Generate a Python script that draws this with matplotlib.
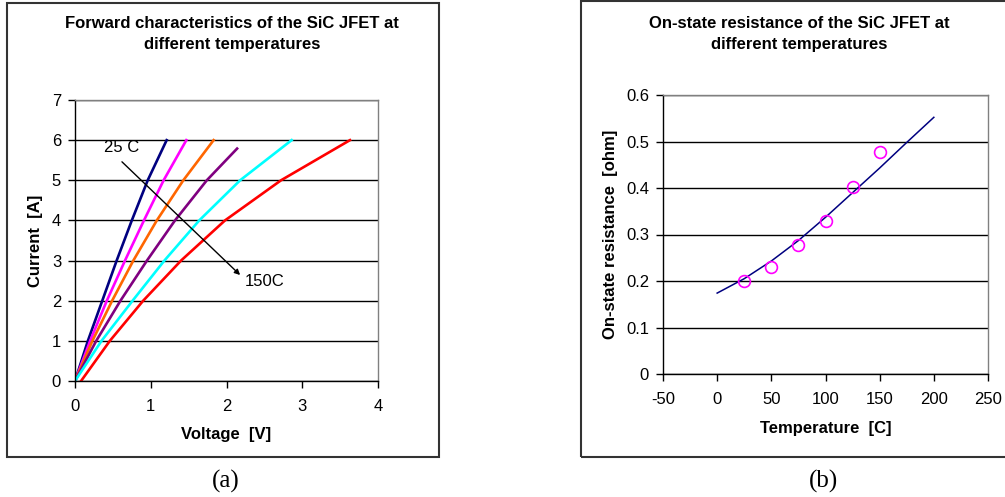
import matplotlib
matplotlib.use("Agg")
import matplotlib.pyplot as plt
from matplotlib.patches import Rectangle

plt.rcParams['font.family'] = ['Liberation Sans', 'DejaVu Sans']
plt.rcParams['axes.unicode_minus'] = False

# ---- data (a): forward characteristics, current [A] vs voltage [V] ----
CURRENT = [0, 1, 2, 3, 4, 5, 6]
CURRENT_PURPLE = [0, 1, 2, 3, 4, 5, 5.79]
V_NAVY    = [0.00, 0.17, 0.36, 0.55, 0.75, 0.96, 1.21]
V_MAGENTA = [0.00, 0.20, 0.42, 0.66, 0.91, 1.17, 1.47]
V_ORANGE  = [0.00, 0.23, 0.49, 0.77, 1.08, 1.43, 1.83]
V_PURPLE  = [0.00, 0.28, 0.60, 0.95, 1.32, 1.74, 2.14]
V_CYAN    = [0.00, 0.35, 0.76, 1.18, 1.64, 2.18, 2.86]
V_RED     = [0.08, 0.46, 0.90, 1.40, 1.98, 2.72, 3.63]

# ---- data (b): on-state resistance vs temperature ----
FIT_T = [0, 25, 50, 75, 100, 125, 150, 175, 200]
FIT_R = [0.174, 0.205, 0.243, 0.287, 0.337, 0.390, 0.443, 0.498, 0.552]
MEAS_T = [25, 50, 75, 100, 125, 150]
MEAS_R = [0.199, 0.231, 0.277, 0.330, 0.403, 0.477]

W, H = 1005, 497
fig = plt.figure(figsize=(W / 100, H / 100), dpi=100)


def fx(px):
    return px / W


def fy(py):
    return 1 - py / H


def style_axes(ax):
    ax.spines['left'].set_color('black')
    ax.spines['bottom'].set_color('black')
    ax.spines['top'].set_color('#808080')
    ax.spines['right'].set_color('#808080')
    for s in ax.spines.values():
        s.set_linewidth(1.0)
    ax.tick_params(direction='out', length=5, width=1, labelsize=12, colors='black')
    ax.tick_params(axis='x', pad=8)
    ax.tick_params(axis='y', pad=5)
    ax.yaxis.grid(True, color='black', linewidth=1.0)
    ax.set_axisbelow(True)


# outer frames
fig.patches.append(Rectangle((fx(7), fy(457)), fx(439 - 7), (457 - 3) / H,
                             transform=fig.transFigure, fill=False,
                             edgecolor='#333333', linewidth=1.5))
fig.patches.append(Rectangle((fx(581), fy(457)), fx(1010 - 581), (457 - 1) / H,
                             transform=fig.transFigure, fill=False,
                             edgecolor='#333333', linewidth=1.5, clip_on=False))

bold = dict(fontsize=12, fontweight='bold', ha='center', va='center')

# ---------- (a) ----------
ax1 = fig.add_axes([fx(75), fy(381), fx(303), 281 / H])
style_axes(ax1)
for v, i, c in [(V_NAVY, CURRENT, '#000080'), (V_MAGENTA, CURRENT, '#FF00FF'),
                (V_ORANGE, CURRENT, '#FF6600'), (V_PURPLE, CURRENT_PURPLE, '#800080'),
                (V_CYAN, CURRENT, '#00FFFF'), (V_RED, CURRENT, '#FF0000')]:
    ax1.plot(v, i, color=c, linewidth=1.9)
ax1.set_xlim(0, 4)
ax1.set_ylim(0, 7)
ax1.set_xticks([0, 1, 2, 3, 4])
ax1.set_yticks(range(8))
ax1.annotate('', xy=(2.18, 2.64), xytext=(0.62, 5.46),
             arrowprops=dict(arrowstyle='-|>', color='black', lw=1.0,
                             mutation_scale=8, shrinkA=0, shrinkB=0))
ax1.text(0.38, 5.81, '25 C', fontsize=12, va='center', ha='left')
ax1.text(2.24, 2.47, '150C', fontsize=12, va='center', ha='left')

fig.text(fx(232), fy(23), 'Forward characteristics of the SiC JFET at', **bold)
fig.text(fx(232), fy(45), 'different temperatures', **bold)
fig.text(fx(35), fy(241), 'Current  [A]', rotation=90, **bold)
fig.text(fx(226), fy(435), 'Voltage  [V]', **bold)
fig.text(fx(226), fy(481), '(a)', ha='center', va='center', fontsize=18,
         family=['Liberation Serif', 'DejaVu Serif'])

# ---------- (b) ----------
ax2 = fig.add_axes([fx(663), fy(374), fx(325), 279 / H])
style_axes(ax2)
ax2.plot(FIT_T, FIT_R, color='#000080', linewidth=1.1)
ax2.plot(MEAS_T, MEAS_R, linestyle='none', marker='o', markersize=8.5,
         markerfacecolor='none', markeredgecolor='#FF00FF', markeredgewidth=1.2)
ax2.set_xlim(-50, 250)
ax2.set_ylim(0, 0.6)
ax2.set_xticks(range(-50, 251, 50))
ax2.set_yticks([0, 0.1, 0.2, 0.3, 0.4, 0.5, 0.6])
ax2.set_yticklabels(['0', '0.1', '0.2', '0.3', '0.4', '0.5', '0.6'])

fig.text(fx(799), fy(23), 'On-state resistance of the SiC JFET at', **bold)
fig.text(fx(799), fy(45), 'different temperatures', **bold)
fig.text(fx(610), fy(234), 'On-state resistance  [ohm]', rotation=90, **bold)
fig.text(fx(826), fy(428), 'Temperature  [C]', **bold)
fig.text(fx(823), fy(481), '(b)', ha='center', va='center', fontsize=18,
         family=['Liberation Serif', 'DejaVu Serif'])

fig.savefig('out.png', dpi=100)
